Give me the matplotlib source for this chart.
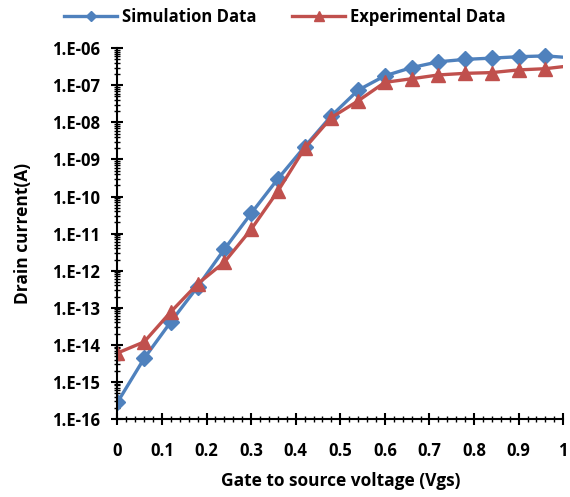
import numpy as np
import matplotlib
matplotlib.use("Agg")
import matplotlib.pyplot as plt
from matplotlib.ticker import FixedLocator, FuncFormatter, LogLocator, MultipleLocator

# Vgs points (Excel markers every 0.06 V, last point sits just outside the axis)
vgs = [0.0, 0.06, 0.12, 0.18, 0.24, 0.30, 0.36, 0.42, 0.48, 0.54,
       0.60, 0.66, 0.72, 0.78, 0.84, 0.90, 0.96, 1.02]

sim_current = [2.8e-16, 4.3e-15, 4.2e-14, 3.7e-13, 3.8e-12, 3.5e-11, 3.0e-10, 2.2e-09,
               1.5e-08, 7.4e-08, 1.8e-07, 3.0e-07, 4.3e-07, 5.0e-07, 5.4e-07, 5.9e-07,
               6.2e-07, 5.5e-07]

exp_current = [6.0e-15, 1.2e-14, 7.8e-14, 4.4e-13, 1.7e-12, 1.3e-11, 1.4e-10, 2.0e-09,
               1.35e-08, 3.8e-08, 1.2e-07, 1.5e-07, 1.9e-07, 2.1e-07, 2.2e-07, 2.6e-07,
               2.8e-07, 3.4e-07]

x_ticks = [0, 0.1, 0.2, 0.3, 0.4, 0.5, 0.6, 0.7, 0.8, 0.9, 1]

blue = "#4F81BD"
red = "#C0504D"

plt.rcParams["font.family"] = ["Open Sans", "DejaVu Sans"]
plt.rcParams["font.weight"] = "bold"

fig = plt.figure(figsize=(5.70, 4.97), dpi=100)
ax = fig.add_axes([0.206, 0.157, 0.782, 0.746])

ax.plot(vgs, sim_current, color=blue, lw=2.4, marker="D", markersize=8,
        label="Simulation Data")
ax.plot(vgs, exp_current, color=red, lw=2.4, marker="^", markersize=10,
        label="Experimental Data")

ax.set_yscale("log")
ax.set_xlim(0, 1)
ax.set_ylim(1e-16, 1e-6)

ax.xaxis.set_major_locator(FixedLocator(x_ticks))
ax.xaxis.set_minor_locator(MultipleLocator(0.02))
ax.xaxis.set_major_formatter(FuncFormatter(lambda v, p: f"{v:g}"))

ax.yaxis.set_major_locator(LogLocator(base=10, numticks=20))
ax.yaxis.set_minor_locator(LogLocator(base=10, subs=np.arange(2, 10), numticks=200))
ax.yaxis.set_major_formatter(FuncFormatter(lambda v, p: f"1.E{int(round(np.log10(v))):+03d}"))

for s in ["top", "right"]:
    ax.spines[s].set_visible(False)
for s in ["left", "bottom"]:
    ax.spines[s].set_linewidth(1.5)

ax.tick_params(which="major", direction="inout", length=9, width=1.5, labelsize=12)
ax.tick_params(axis="y", which="major", pad=8)
ax.tick_params(axis="x", which="major", pad=12)
ax.tick_params(which="minor", direction="inout", length=5, width=1.0)

ax.set_xlabel("Gate to source voltage (Vgs)", fontsize=12.5, fontweight="bold", labelpad=9)
ax.set_ylabel("Drain current(A)", fontsize=12.5, fontweight="bold", labelpad=14)

fig.legend(loc="upper center", bbox_to_anchor=(0.5, 1.015), ncol=2, frameon=False,
           fontsize=12, handlelength=3.2, handletextpad=0.3, columnspacing=2.1,
           markerscale=0.7)

fig.savefig("out.png", dpi=100)
